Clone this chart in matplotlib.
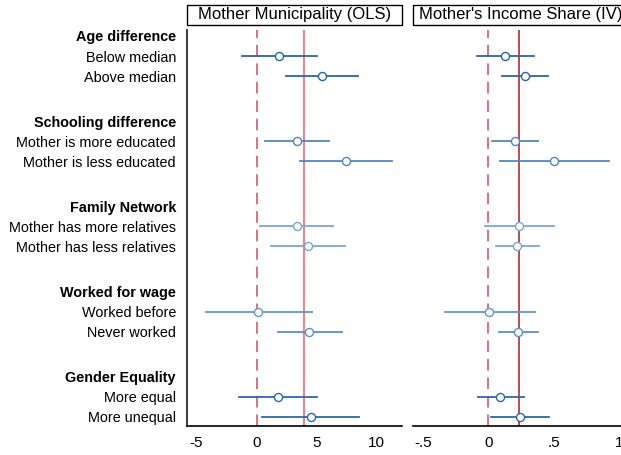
import matplotlib
matplotlib.use("Agg")
import matplotlib.pyplot as plt
from matplotlib.patches import Rectangle

plt.rcParams['font.family'] = ['Liberation Sans', 'DejaVu Sans']

groups = ["Age difference", "Schooling difference", "Family Network",
          "Worked for wage", "Gender Equality"]
items = [["Below median", "Above median"],
         ["Mother is more educated", "Mother is less educated"],
         ["Mother has more relatives", "Mother has less relatives"],
         ["Worked before", "Never worked"],
         ["More equal", "More unequal"]]

# Panel 1: Mother Municipality (OLS)
ols_est = [1.86, 5.44, 3.33, 7.44, 3.33, 4.28, 0.14, 4.39, 1.75, 4.50]
ols_lo = [-1.20, 2.44, 0.69, 3.61, 0.28, 1.19, -4.25, 1.75, -1.47, 0.47]
ols_hi = [5.00, 8.47, 6.00, 11.30, 6.39, 7.33, 4.58, 7.08, 5.00, 8.53]
ols_ref = 3.94

# Panel 2: Mother's Income Share (IV)
iv_est = [0.127, 0.280, 0.204, 0.504, 0.237, 0.219, 0.008, 0.229, 0.092, 0.240]
iv_lo = [-0.089, 0.107, 0.026, 0.089, -0.023, 0.059, -0.330, 0.082, -0.079, 0.021]
iv_hi = [0.347, 0.453, 0.382, 0.919, 0.499, 0.385, 0.354, 0.377, 0.270, 0.461]
iv_ref = 0.237

row_colors = ["#2b64a8", "#2b64a8", "#4f87c6", "#4f87c6", "#7aa6d6", "#7aa6d6",
              "#6496cf", "#5a8fcc", "#2b68b0", "#2b68b0"]

gap = 4.26
ypos, labels_y, labels_txt = [], [], []
for g, name in enumerate(groups):
    labels_y.append(g * gap)
    labels_txt.append(name)
    for k, it in enumerate(items[g]):
        ypos.append(g * gap + k + 1)
        labels_y.append(g * gap + k + 1)
        labels_txt.append(it)

fig = plt.figure(figsize=(6.21, 4.55), dpi=100)
W = 215 / 621
ax1 = fig.add_axes([187 / 621, 29 / 455, W, 396 / 455])
ax2 = fig.add_axes([413 / 621, 29 / 455, W, 396 / 455])


def panel(ax, est, lo, hi, ref, refcolor, reflw, xlim, xticks, xticklabels, title):
    ax.axvline(0, color="#e0707e", lw=1.4, ls=(0, (6, 3.5)), zorder=1)
    ax.axvline(ref, color=refcolor, lw=reflw, zorder=1)
    for i in range(len(est)):
        ax.plot([lo[i], hi[i]], [ypos[i], ypos[i]], color=row_colors[i], lw=1.3, zorder=2)
        ax.plot(est[i], ypos[i], marker="o", ms=5.8, mfc="white", mec=row_colors[i],
                mew=1.0, zorder=3, ls="none")
    ax.set_xlim(*xlim)
    ax.set_ylim(19.5, -0.3)
    ax.set_xticks(xticks)
    ax.set_xticklabels(xticklabels, fontsize=11)
    ax.tick_params(axis="x", length=0, pad=7)
    for s in ["top", "right"]:
        ax.spines[s].set_visible(False)
    ax.spines["bottom"].set_linewidth(1.2)
    ax.spines["bottom"].set_color("black")
    ax.add_patch(Rectangle((0, 1 + 5 / 396), 1, 20 / 396, transform=ax.transAxes,
                           fill=False, edgecolor="black", lw=1.0, clip_on=False))
    ax.text(0.5, 1 + 15 / 396, title, transform=ax.transAxes, ha="center",
            va="center", fontsize=12)


panel(ax1, ols_est, ols_lo, ols_hi, ols_ref, "#e08a96", 1.6, (-5.8, 12.1),
      [-5, 0, 5, 10], ["-5", "0", "5", "10"], "Mother Municipality (OLS)")
panel(ax2, iv_est, iv_lo, iv_hi, iv_ref, "#a31b28", 1.1, (-0.575, 1.066),
      [-0.5, 0, 0.5, 1], ["-.5", "0", ".5", "1"], "Mother's Income Share (IV)")

ax1.spines["left"].set_linewidth(1.5)
ax1.spines["left"].set_color("#444444")
ax1.set_yticks(labels_y)
ax1.set_yticklabels(labels_txt, fontsize=10.4)
ax1.tick_params(axis="y", length=0, pad=8)
for t, lab in zip(ax1.get_yticklabels(), labels_txt):
    if lab in groups:
        t.set_fontweight("bold")

ax2.spines["left"].set_visible(False)
ax2.set_yticks([])

fig.savefig("out.png", dpi=100)
